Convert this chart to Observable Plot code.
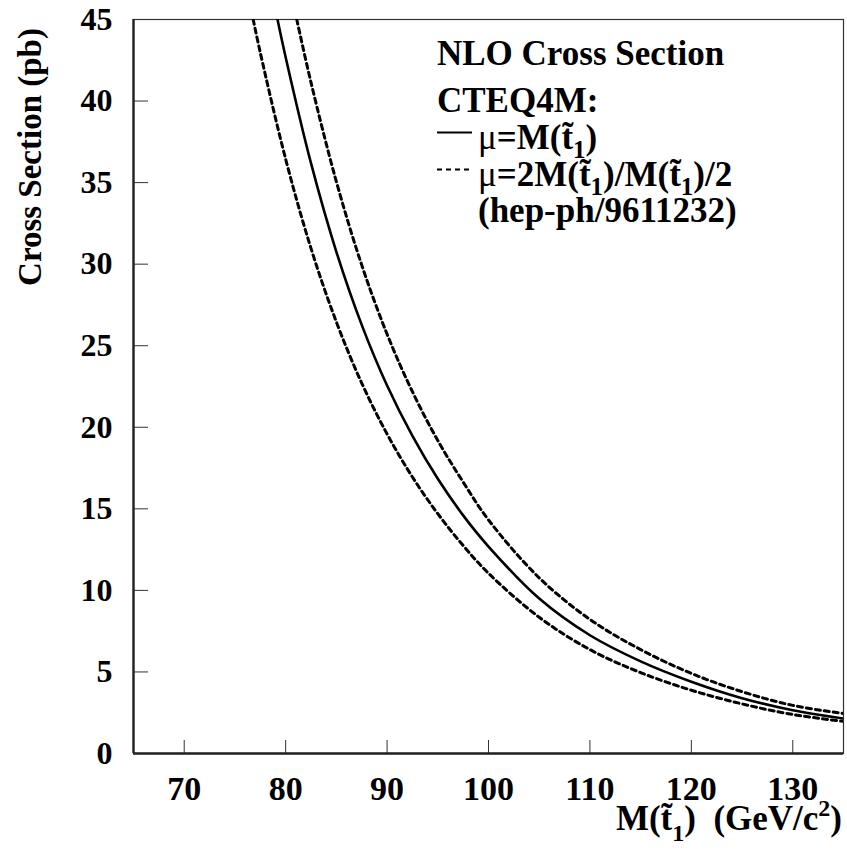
<!DOCTYPE html>
<html><head><meta charset="utf-8">
<script src="https://cdn.jsdelivr.net/npm/d3@7"></script>
<script src="https://cdn.jsdelivr.net/npm/@observablehq/plot@0.6"></script>
<style>body{margin:0;background:#fff;} svg{display:block}</style>
</head><body><div id="chart"></div>
<script>
// Tick values
const xTicks = [70, 80, 90, 100, 110, 120, 130];
const yTicks = [0, 5, 10, 15, 20, 25, 30, 35, 40, 45];

// mu = M(t1) (solid)
const massCentral = [79.2, 80, 82.5, 85, 87.5, 90, 92.5, 95, 97.5, 100, 105, 110, 115, 120, 125, 130, 135];
const xsecCentral = [45.0, 42.69, 36.19, 30.76, 26.28, 22.56, 19.47, 16.84, 14.6, 12.69, 9.5, 7.25, 5.65, 4.4, 3.39, 2.65, 2.14];

// mu = M(t1)/2 (upper dashed)
const massHalf = [81.1, 82.5, 85, 87.5, 90, 92.5, 95, 97.5, 100, 105, 110, 115, 120, 125, 130, 135];
const xsecHalf = [45.0, 41.14, 35.06, 29.95, 25.71, 22.18, 19.19, 16.64, 14.32, 10.77, 8.22, 6.37, 4.91, 3.79, 2.95, 2.45];

// mu = 2M(t1) (lower dashed)
const massDouble = [76.8, 77.5, 80, 82.5, 85, 87.5, 90, 92.5, 95, 97.5, 100, 105, 110, 115, 120, 125, 130, 135];
const xsecDouble = [45.0, 42.97, 36.44, 30.97, 26.46, 22.71, 19.59, 16.95, 14.7, 12.75, 11.05, 8.35, 6.37, 4.96, 3.88, 3.04, 2.39, 1.97];

const toRows = (ms, vs) => ms.map((m, i) => ({mass: m, xsec: vs[i]}));
const central = toRows(massCentral, xsecCentral);
const half = toRows(massHalf, xsecHalf);
const dbl = toRows(massDouble, xsecDouble);

const FONT = "'Liberation Serif', 'Times New Roman', Times, serif";

const plot = Plot.plot({
  width: 847,
  height: 866,
  marginLeft: 133,
  marginRight: 4,
  marginTop: 19,
  marginBottom: 113,
  x: {domain: [65, 135]},
  y: {domain: [0, 45]},
  style: {fontFamily: FONT, fontWeight: "bold", background: "#fff", color: "#000", overflow: "visible"},
  marks: [
    Plot.frame({stroke: "#333", strokeWidth: 1.2}),
    Plot.axisX(xTicks, {tickSize: -13, tickPadding: 35, fontSize: 34, label: null, stroke: "#333"}),
    Plot.axisY(yTicks, {tickSize: -15, tickPadding: 36, fontSize: 32, label: null, stroke: "#333"}),
    Plot.ruleX([65], {stroke: "#222", strokeWidth: 2.4}),
    Plot.ruleY([0], {stroke: "#222", strokeWidth: 2.4}),
    Plot.line(dbl, {x: "mass", y: "xsec", stroke: "#000", strokeWidth: 3, strokeDasharray: "5,4", curve: "catmull-rom", clip: true}),
    Plot.line(half, {x: "mass", y: "xsec", stroke: "#000", strokeWidth: 3, strokeDasharray: "5,4", curve: "catmull-rom", clip: true}),
    Plot.line(central, {x: "mass", y: "xsec", stroke: "#000", strokeWidth: 2.6, curve: "catmull-rom", clip: true})
  ]
});

document.getElementById("chart").appendChild(plot);

const svg = d3.select(plot);
const g = svg.append("g")
  .attr("font-family", FONT)
  .attr("font-weight", "bold")
  .attr("fill", "#000")
  .attr("text-anchor", "start");

// Y axis title
g.append("text")
  .attr("transform", "translate(41,157) rotate(-90)")
  .attr("text-anchor", "middle")
  .attr("font-size", 33)
  .text("Cross Section (pb)");

// X axis title: M(t~1)  (GeV/c^2)
const xt = g.append("text")
  .attr("x", 842).attr("y", 830)
  .attr("text-anchor", "end")
  .attr("font-size", 35);
xt.append("tspan").text("M(t\u0303");
xt.append("tspan").attr("font-size", 24).attr("dy", 11).text("1");
xt.append("tspan").attr("dy", -11).text(")\u00a0\u00a0(GeV/c");
xt.append("tspan").attr("font-size", 24).attr("dy", -14).text("2");
xt.append("tspan").attr("dy", 14).text(")");

// Legend
const lx = 437;
g.append("text").attr("x", lx).attr("y", 65).attr("font-size", 35).text("NLO Cross Section");
g.append("text").attr("x", lx).attr("y", 112).attr("font-size", 35).text("CTEQ4M:");

g.append("line").attr("x1", lx).attr("x2", 472).attr("y1", 132.5).attr("y2", 132.5)
  .attr("stroke", "#000").attr("stroke-width", 2.2);
const l1 = g.append("text").attr("x", 478).attr("y", 149).attr("font-size", 35);
l1.append("tspan").attr("font-weight", "normal").text("\u03bc");
l1.append("tspan").text("=M(t\u0303");
l1.append("tspan").attr("font-size", 25).attr("dy", 9).text("1");
l1.append("tspan").attr("dy", -9).text(")");

g.append("line").attr("x1", lx).attr("x2", 472).attr("y1", 169.5).attr("y2", 169.5)
  .attr("stroke", "#000").attr("stroke-width", 2.2).attr("stroke-dasharray", "5,4");
const l2 = g.append("text").attr("x", 478).attr("y", 186).attr("font-size", 35);
l2.append("tspan").attr("font-weight", "normal").text("\u03bc");
l2.append("tspan").text("=2M(t\u0303");
l2.append("tspan").attr("font-size", 25).attr("dy", 9).text("1");
l2.append("tspan").attr("dy", -9).text(")/M(t\u0303");
l2.append("tspan").attr("font-size", 25).attr("dy", 9).text("1");
l2.append("tspan").attr("dy", -9).text(")/2");

g.append("text").attr("x", 478).attr("y", 222).attr("font-size", 35).text("(hep-ph/9611232)");
</script>
</body></html>
